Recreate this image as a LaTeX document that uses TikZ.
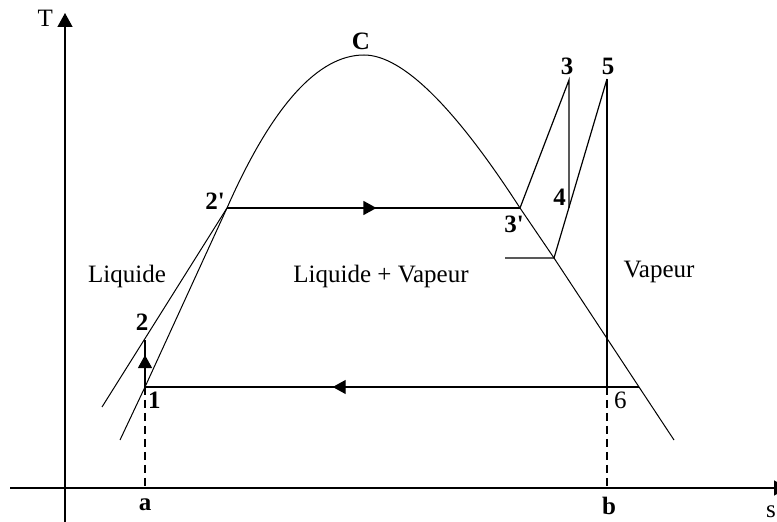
\documentclass[tikz,border=0pt]{standalone}
\usepackage{fontspec}
\setmainfont{Liberation Serif}
\usetikzlibrary{arrows.meta, positioning, decorations.markings}
\tikzset{
    tsdiagram/.style={x=1pt, y=1pt, >={Triangle[length=14pt,width=15pt]}, font=\fontsize{25}{30}\selectfont},
    axisline/.style={->, line width=1.3pt},
    satcurve/.style={line width=1pt},
    cycleline/.style={line width=1.2pt},
    guideline/.style={line width=1.2pt, dash pattern=on 8pt off 5pt},
    ptlabel/.style={inner sep=0pt, font=\fontsize{25}{30}\selectfont\bfseries},
    zonelabel/.style={inner sep=0pt, anchor=base},
    % arrow tip along a segment, its point at the given position
    midarrow/.style={postaction={decorate}, decoration={markings, mark=at position #1 with {\arrow{Triangle[length=13pt,width=14pt]}}}},
}

\begin{document}
\begin{tikzpicture}[tsdiagram]
    \useasboundingbox (0,0) rectangle (777,522);
    % points of the cycle
    \coordinate (p1)  at (145,135);
    \coordinate (p2)  at (145,182);
    \coordinate (p2p) at (227,314);
    \coordinate (p3p) at (520,314);
    \coordinate (p3)  at (569,442);
    \coordinate (p4)  at (569,314);
    \coordinate (p5)  at (607,443);
    \coordinate (p6)  at (607,135);
    \coordinate (pc)  at (364,467);
    \coordinate (pj)  at (554,264);
    \coordinate (px)  at (639,135);
    \coordinate (pa)  at (145,34);
    \coordinate (pb)  at (607,34);
    % free ends
    \coordinate (dl) at (120,82);
    \coordinate (dr) at (674,82);
    \coordinate (ll) at (102,115);
    \coordinate (hl) at (505,264);
    \coordinate (xo) at (10,34);
    \coordinate (xe) at (788,34);
    \coordinate (yo) at (65,0);
    \coordinate (ye) at (65,509);

    \draw[axisline] (xo) -- (xe);
    \draw[axisline] (yo) -- (ye);

    % saturation dome
    \draw[satcurve] (dl) -- (p1) -- (p2p) .. controls (272,416) and (318,467) .. (pc)
        .. controls (402,467) and (454,416) .. (p3p) -- (pj) -- (px) -- (dr);
    \draw[satcurve] (ll) -- (p2p);

    % cycle
    \draw[cycleline, midarrow=0.68] (p1) -- (p2);
    \draw[cycleline, midarrow=0.51] (p2p) -- (p3p);
    \draw[cycleline] (p3p) -- (p3) -- (p4);
    \draw[cycleline] (p5) -- (pj) -- (hl);
    \draw[cycleline] (p5) -- (p6);
    \draw[cycleline, midarrow=0.62] (px) -- (p1);
    \draw[guideline] (p1) -- (pa);
    \draw[guideline] (p6) -- (pb);

    \node[ptlabel, below right=5pt and 3pt of p1] (l1) {1};
    \node[ptlabel, above=9pt of p2, xshift=-3pt] (l2) {2};
    \node[ptlabel, left=2pt of p2p, yshift=7pt] (l2p) {2\textquotesingle};
    \node[ptlabel, below=8pt of p3p, xshift=-6pt] (l3p) {3\textquotesingle};
    \node[ptlabel, above=5pt of p3, xshift=-2pt] (l3) {3};
    \node[ptlabel, above left=2pt and 3pt of p4] (l4) {4};
    \node[ptlabel, above=4pt of p5, xshift=1pt] (l5) {5};
    \node[ptlabel, font=\fontsize{25}{30}\selectfont, below right=5pt and 7pt of p6] (l6) {6};
    \node[ptlabel, above=5pt of pc, xshift=-3pt] (lc) {C};
    \node[ptlabel, below=11pt of pa] (la) {a};
    \node[ptlabel, below=9pt of pb, xshift=2pt] (lb) {b};
    \node[inner sep=0pt, left=12pt of ye, yshift=-5pt] (lt) {T};
    \node[inner sep=0pt, anchor=north east] (ls) at (776,16) {s};

    \node[zonelabel] (liq) at (127,239) {Liquide};
    \node[zonelabel] (mix) at (381,239) {Liquide + Vapeur};
    \node[zonelabel] (vap) at (659,244) {Vapeur};
\end{tikzpicture}
\end{document}
